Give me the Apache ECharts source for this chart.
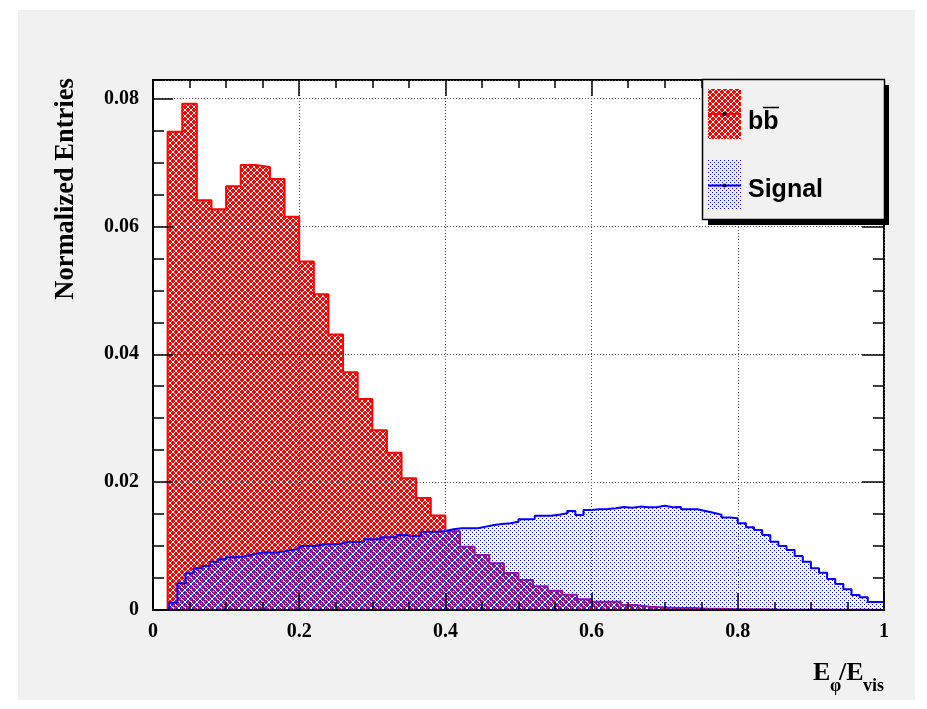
<!DOCTYPE html>
<html>
<head>
<meta charset="utf-8">
<script src="https://cdn.jsdelivr.net/npm/echarts@6/dist/echarts.min.js"></script>
<style>
  html, body { margin: 0; padding: 0; background: #ffffff; }
  #canvasBg { position: absolute; left: 18px; top: 10px; width: 897px; height: 690px; background: #f1f1f1; }
  #chart { position: absolute; left: 0; top: 0; width: 927px; height: 709px; }
</style>
</head>
<body>
<div id="canvasBg"></div>
<div id="chart"></div>
<script>
// E_phi / E_vis, both samples normalized to unit area

// b-bbar background: 50 bins over [0, 1]
const bkgRange = [0, 1];
const bkgValues = [
  0, 0.0748, 0.0792, 0.0641, 0.0627, 0.0663, 0.0696, 0.0693, 0.0674, 0.0615,
  0.0545, 0.0494, 0.0431, 0.0372, 0.0330, 0.0281, 0.0246, 0.0206, 0.0175, 0.0148,
  0.0123, 0.0099, 0.0086, 0.0073, 0.0058, 0.0047, 0.0037, 0.0030, 0.0024, 0.0017,
  0.0013, 0.0013, 0.0008, 0.0005, 0.0004, 0.0003, 0.0003, 0.0002, 0.0002, 0.0001,
  0.0001, 0.0001, 0.00005, 0.00005, 0.00005, 0.00003, 0.00003, 0.00002, 0.00002, 0.00001
];

// Signal: 90 bins over [0, 1]
const sigRange = [0, 1];
const sigValues = [
  0, 0, 0.00114, 0.00418, 0.00574, 0.00653, 0.00689, 0.00756, 0.00793, 0.00825,
  0.00834, 0.0086, 0.00887, 0.00903, 0.00897, 0.00913, 0.00939, 0.0095, 0.01002, 0.01002,
  0.01028, 0.01028, 0.01033, 0.01064, 0.01064, 0.01069, 0.01106, 0.01106, 0.01138, 0.01138,
  0.01174, 0.01158, 0.01158, 0.01225, 0.01225, 0.01236, 0.01263, 0.01278, 0.01278, 0.01278,
  0.01304, 0.0133, 0.01345, 0.01357, 0.01382, 0.0142, 0.01424, 0.01476, 0.01476, 0.0149,
  0.01513, 0.01549, 0.01487, 0.01565, 0.01576, 0.01581, 0.01591, 0.01612, 0.01601, 0.01617,
  0.01607, 0.01607, 0.01632, 0.01607, 0.01612, 0.01576, 0.01576, 0.0155, 0.0152, 0.0149,
  0.01445, 0.01435, 0.01357, 0.01294, 0.01252, 0.01174, 0.01069, 0.01002, 0.00939, 0.00845,
  0.00756, 0.00653, 0.00584, 0.00485, 0.00407, 0.00324, 0.00235, 0.00199, 0.00125, 0.00125
];

const seriesNames = ['bb', 'Signal'];
const xAxisRange = [0, 1];
const yAxisRange = [0, 0.0829];
const xMajorStep = 0.2, xMinorStep = 0.05;
const yMajorStep = 0.02, yMinorStep = 0.005;

// Histogram outline points: one point per bin low edge, plus the upper edge
function stepPoints(values, range) {
  const w = (range[1] - range[0]) / values.length;
  const pts = values.map((v, i) => [range[0] + i * w, v]);
  pts.push([range[1], values[values.length - 1]]);
  return pts;
}

// Small repeating fill tiles
function makeTile(size, bg, fg, test) {
  const c = document.createElement('canvas');
  c.width = size; c.height = size;
  const g = c.getContext('2d');
  if (bg) { g.fillStyle = bg; g.fillRect(0, 0, size, size); }
  g.fillStyle = fg;
  for (let y = 0; y < size; y++) {
    for (let x = 0; x < size; x++) {
      if (test(x, y)) g.fillRect(x, y, 1, 1);
    }
  }
  return c;
}
// red cross-hatch: white diagonals both ways
const hatchTile = makeTile(6, '#ff0000', '#ffffff',
  (x, y) => (x + y) % 6 === 0 || (x - y + 6) % 6 === 3);
// sparse blue stipple on a transparent ground
const dotTile = makeTile(4, null, '#0000ff',
  (x, y) => (x === 0 && y === 0) || (x === 2 && y === 2));
const redFill = { image: hatchTile, repeat: 'repeat' };
const blueFill = { image: dotTile, repeat: 'repeat' };

const tickLine = { color: '#000', width: 1.5 };
const labelFont = { color: '#000', fontFamily: 'Liberation Serif', fontWeight: 'bold', fontSize: 20 };
const gridDots = { show: true, lineStyle: { color: '#555', width: 1, type: [1, 2] } };

function tickAxis(base, extra) {
  return Object.assign({
    type: 'value', z: 5,
    axisLine: { show: false, onZero: false },
    axisLabel: { show: false },
    splitLine: { show: false }
  }, base, extra);
}

const chart = echarts.init(document.getElementById('chart'), null, { renderer: 'canvas' });

const option = {
  animation: false,
  backgroundColor: 'transparent',
  grid: {
    left: 153, right: 43, top: 80, bottom: 99,
    show: true, backgroundColor: '#ffffff', borderColor: '#000', borderWidth: 2
  },
  xAxis: [
    tickAxis({ position: 'bottom', min: xAxisRange[0], max: xAxisRange[1], interval: xMajorStep }, {
      axisLine: { show: true, onZero: false, lineStyle: { color: '#000', width: 2 } },
      axisTick: { show: true, inside: true, length: 17, lineStyle: tickLine },
      axisLabel: Object.assign({ show: true, margin: 12 }, labelFont),
      splitLine: gridDots
    }),
    tickAxis({ position: 'bottom', min: xAxisRange[0], max: xAxisRange[1], interval: xMinorStep }, {
      axisTick: { show: true, inside: true, length: 8, lineStyle: tickLine }
    }),
    tickAxis({ position: 'top', min: xAxisRange[0], max: xAxisRange[1], interval: xMajorStep }, {
      axisTick: { show: true, inside: true, length: 16, lineStyle: tickLine }
    }),
    tickAxis({ position: 'top', min: xAxisRange[0], max: xAxisRange[1], interval: xMinorStep }, {
      axisTick: { show: true, inside: true, length: 8, lineStyle: tickLine }
    })
  ],
  yAxis: [
    tickAxis({ position: 'left', min: yAxisRange[0], max: yAxisRange[1], interval: yMajorStep }, {
      axisLine: { show: true, onZero: false, lineStyle: { color: '#000', width: 2 } },
      axisTick: { show: true, inside: true, length: 20, lineStyle: tickLine },
      axisLabel: Object.assign({ show: true, margin: 14, showMaxLabel: false }, labelFont),
      splitLine: gridDots
    }),
    tickAxis({ position: 'left', min: yAxisRange[0], max: yAxisRange[1], interval: yMinorStep }, {
      axisTick: { show: true, inside: true, length: 11, lineStyle: tickLine }
    }),
    tickAxis({ position: 'right', min: yAxisRange[0], max: yAxisRange[1], interval: yMajorStep }, {
      axisTick: { show: true, inside: true, length: 22, lineStyle: tickLine }
    }),
    tickAxis({ position: 'right', min: yAxisRange[0], max: yAxisRange[1], interval: yMinorStep }, {
      axisTick: { show: true, inside: true, length: 11, lineStyle: tickLine }
    })
  ],
  series: [
    {
      name: seriesNames[0], type: 'line', xAxisIndex: 0, yAxisIndex: 0,
      data: stepPoints(bkgValues, bkgRange), step: 'end',
      symbol: 'none', showSymbol: false, silent: true, z: 2,
      lineStyle: { color: '#ff0000', width: 2 },
      itemStyle: { color: '#ff0000' },
      areaStyle: { color: redFill, opacity: 1 }
    },
    {
      name: seriesNames[1], type: 'line', xAxisIndex: 0, yAxisIndex: 0,
      data: stepPoints(sigValues, sigRange), step: 'end',
      symbol: 'none', showSymbol: false, silent: true, z: 3,
      lineStyle: { color: '#0000ff', width: 2 },
      itemStyle: { color: '#0000ff' },
      areaStyle: { color: blueFill, opacity: 1 }
    }
  ],
  graphic: [
    // y-axis title
    {
      type: 'text', x: 66, y: 189, rotation: Math.PI / 2, z: 10,
      style: {
        text: 'Normalized Entries', x: 0, y: 0,
        align: 'center', verticalAlign: 'middle', textAlign: 'center', textVerticalAlign: 'middle',
        font: 'bold 26.5px "Liberation Serif"', fill: '#000'
      }
    },
    // x-axis title E_phi / E_vis
    { type: 'text', x: 813, y: 673, z: 10, style: { text: 'E', font: 'bold 26px "Liberation Serif"', fill: '#000', align: 'left', verticalAlign: 'middle', textAlign: 'left', textVerticalAlign: 'middle' } },
    { type: 'text', x: 830, y: 686, z: 10, style: { text: '\u03c6', font: 'bold 18px "Liberation Serif"', fill: '#000', align: 'left', verticalAlign: 'middle', textAlign: 'left', textVerticalAlign: 'middle' } },
    { type: 'text', x: 839, y: 673, z: 10, style: { text: '/E', font: 'bold 26px "Liberation Serif"', fill: '#000', align: 'left', verticalAlign: 'middle', textAlign: 'left', textVerticalAlign: 'middle' } },
    { type: 'text', x: 863, y: 686, z: 10, style: { text: 'vis', font: 'bold 18px "Liberation Serif"', fill: '#000', align: 'left', verticalAlign: 'middle', textAlign: 'left', textVerticalAlign: 'middle' } },
    // legend box with shadow
    { type: 'rect', z: 20, shape: { x: 708, y: 85, width: 181, height: 140 }, style: { fill: '#000' } },
    { type: 'rect', z: 21, shape: { x: 702.5, y: 79.5, width: 182, height: 140 }, style: { fill: '#f1f1f1', stroke: '#000', lineWidth: 1.5 } },
    // background entry
    { type: 'rect', z: 22, shape: { x: 708, y: 89, width: 33, height: 50 }, style: { fill: redFill } },
    { type: 'line', z: 23, shape: { x1: 708, y1: 114, x2: 741, y2: 114 }, style: { stroke: '#ff0000', lineWidth: 2 } },
    { type: 'circle', z: 24, shape: { cx: 724.5, cy: 114, r: 2 }, style: { fill: '#000' } },
    { type: 'text', x: 748, y: 122, z: 23, style: { text: seriesNames[0], font: 'bold 25px "Liberation Sans"', fill: '#000', align: 'left', verticalAlign: 'middle', textAlign: 'left', textVerticalAlign: 'middle' } },
    { type: 'line', z: 23, shape: { x1: 763, y1: 107.5, x2: 779, y2: 107.5 }, style: { stroke: '#000', lineWidth: 1.5 } },
    // signal entry
    { type: 'rect', z: 22, shape: { x: 708, y: 160, width: 33, height: 50 }, style: { fill: blueFill } },
    { type: 'line', z: 23, shape: { x1: 708, y1: 185.5, x2: 741, y2: 185.5 }, style: { stroke: '#0000ff', lineWidth: 2 } },
    { type: 'circle', z: 24, shape: { cx: 724.5, cy: 185.5, r: 2 }, style: { fill: '#000' } },
    { type: 'text', x: 748, y: 190.5, z: 23, style: { text: seriesNames[1], font: 'bold 25px "Liberation Sans"', fill: '#000', align: 'left', verticalAlign: 'middle', textAlign: 'left', textVerticalAlign: 'middle' } }
  ]
};

chart.setOption(option);
</script>
</body>
</html>
